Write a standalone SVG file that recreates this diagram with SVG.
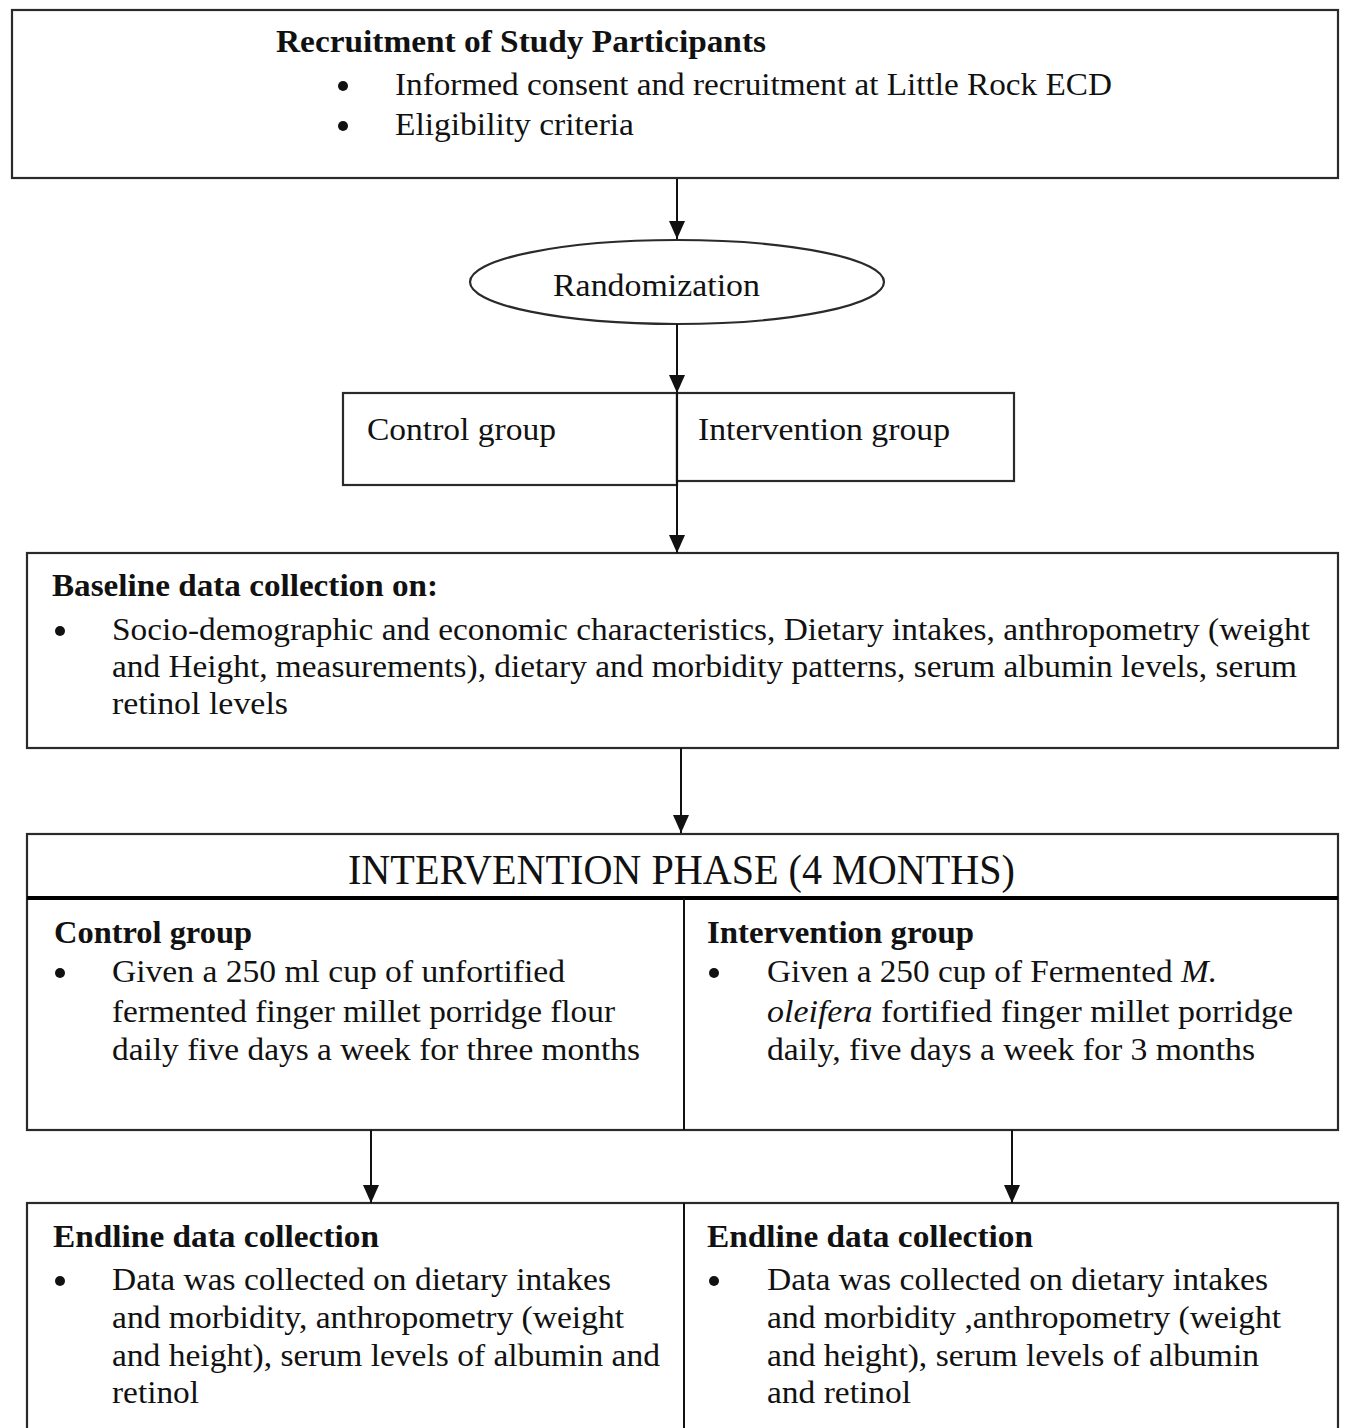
<svg xmlns="http://www.w3.org/2000/svg" width="1351" height="1428" viewBox="0 0 1351 1428">
<style>
.box{fill:#fff;stroke:#2a2a2a;stroke-width:2.2}
.ln{stroke:#111;stroke-width:2;fill:none}
.t{font-family:"Liberation Serif","Times New Roman",serif;font-size:31px;fill:#111}
.b{font-weight:bold}
.h{font-size:42px}
.dot{fill:#111}
</style>
<defs>
<marker id="ah" viewBox="0 0 18 16" refX="18" refY="8" markerWidth="18" markerHeight="16" markerUnits="userSpaceOnUse" orient="auto">
<path d="M0,0 L18,8 L0,16 z" fill="#111"/>
</marker>
</defs>
<rect width="1351" height="1428" fill="#fff"/>

<g id="recruitment">
<rect class="box" x="12" y="10" width="1326" height="168"/>
<text class="t b" x="276" y="52" textLength="490" lengthAdjust="spacingAndGlyphs">Recruitment of Study Participants</text>
<circle class="dot" cx="343" cy="86" r="5"/>
<text class="t" x="395" y="95" textLength="717" lengthAdjust="spacingAndGlyphs">Informed consent and recruitment at Little Rock ECD</text>
<circle class="dot" cx="343" cy="126" r="5"/>
<text class="t" x="395" y="135" textLength="239" lengthAdjust="spacingAndGlyphs">Eligibility criteria</text>
</g>

<g id="randomization">
<ellipse class="box" cx="677" cy="282" rx="207" ry="42"/>
<text class="t" x="553" y="296" textLength="207" lengthAdjust="spacingAndGlyphs">Randomization</text>
</g>

<g id="groups">
<rect class="box" x="343" y="393" width="334" height="92"/>
<rect class="box" x="677" y="393" width="337" height="88"/>
<text class="t" x="367" y="440" textLength="189" lengthAdjust="spacingAndGlyphs">Control group</text>
<text class="t" x="698" y="440" textLength="252" lengthAdjust="spacingAndGlyphs">Intervention group</text>
</g>

<g id="baseline">
<rect class="box" x="27" y="553" width="1311" height="195"/>
<text class="t b" x="52" y="596" textLength="386" lengthAdjust="spacingAndGlyphs">Baseline data collection on:</text>
<circle class="dot" cx="60" cy="631" r="5"/>
<text class="t" x="112" y="640" textLength="1198" lengthAdjust="spacingAndGlyphs">Socio-demographic and economic characteristics, Dietary intakes, anthropometry (weight</text>
<text class="t" x="112" y="677" textLength="1185" lengthAdjust="spacingAndGlyphs">and Height, measurements), dietary and morbidity patterns, serum albumin levels, serum</text>
<text class="t" x="112" y="714" textLength="176" lengthAdjust="spacingAndGlyphs">retinol levels</text>
</g>

<g id="intervention-phase">
<rect class="box" x="27" y="834" width="1311" height="296"/>
<line x1="27" y1="898" x2="1338" y2="898" stroke="#000" stroke-width="4"/>
<line class="ln" x1="684" y1="898" x2="684" y2="1130"/>
<text class="t h" x="348" y="884" textLength="667" lengthAdjust="spacingAndGlyphs">INTERVENTION PHASE (4 MONTHS)</text>
<text class="t b" x="54" y="943" textLength="198" lengthAdjust="spacingAndGlyphs">Control group</text>
<circle class="dot" cx="60" cy="973" r="5"/>
<text class="t" x="112" y="982" textLength="453" lengthAdjust="spacingAndGlyphs">Given a 250 ml cup of unfortified</text>
<text class="t" x="112" y="1022" textLength="503" lengthAdjust="spacingAndGlyphs">fermented finger millet porridge flour</text>
<text class="t" x="112" y="1060" textLength="528" lengthAdjust="spacingAndGlyphs">daily five days a week for three months</text>
<text class="t b" x="707" y="943" textLength="267" lengthAdjust="spacingAndGlyphs">Intervention group</text>
<circle class="dot" cx="714" cy="973" r="5"/>
<text class="t" x="767" y="982" textLength="450" lengthAdjust="spacingAndGlyphs">Given a 250 cup of Fermented <tspan font-style="italic">M.</tspan></text>
<text class="t" x="767" y="1022" textLength="526" lengthAdjust="spacingAndGlyphs"><tspan font-style="italic">oleifera</tspan>  fortified finger millet porridge</text>
<text class="t" x="767" y="1060" textLength="488" lengthAdjust="spacingAndGlyphs">daily, five days a week for 3 months</text>
</g>

<g id="endline">
<rect class="box" x="27" y="1203" width="1311" height="240"/>
<line class="ln" x1="684" y1="1203" x2="684" y2="1428"/>
<text class="t b" x="53" y="1247" textLength="326" lengthAdjust="spacingAndGlyphs">Endline data collection</text>
<circle class="dot" cx="60" cy="1281" r="5"/>
<text class="t" x="112" y="1290" textLength="499" lengthAdjust="spacingAndGlyphs">Data was collected on dietary intakes</text>
<text class="t" x="112" y="1328" textLength="512" lengthAdjust="spacingAndGlyphs">and morbidity, anthropometry (weight</text>
<text class="t" x="112" y="1366" textLength="548" lengthAdjust="spacingAndGlyphs">and height), serum levels of albumin and</text>
<text class="t" x="112" y="1403" textLength="87" lengthAdjust="spacingAndGlyphs">retinol</text>
<text class="t b" x="707" y="1247" textLength="326" lengthAdjust="spacingAndGlyphs">Endline data collection</text>
<circle class="dot" cx="714" cy="1281" r="5"/>
<text class="t" x="767" y="1290" textLength="501" lengthAdjust="spacingAndGlyphs">Data was collected on dietary intakes</text>
<text class="t" x="767" y="1328" textLength="514" lengthAdjust="spacingAndGlyphs">and morbidity ,anthropometry (weight</text>
<text class="t" x="767" y="1366" textLength="492" lengthAdjust="spacingAndGlyphs">and height), serum levels of albumin</text>
<text class="t" x="767" y="1403" textLength="144" lengthAdjust="spacingAndGlyphs">and retinol</text>
</g>

<g id="connectors">
<line class="ln" x1="677" y1="179" x2="677" y2="239" marker-end="url(#ah)"/>
<line class="ln" x1="677" y1="324" x2="677" y2="393" marker-end="url(#ah)"/>
<line class="ln" x1="677" y1="393" x2="677" y2="553" marker-end="url(#ah)"/>
<line class="ln" x1="681" y1="748" x2="681" y2="833" marker-end="url(#ah)"/>
<line class="ln" x1="371" y1="1130" x2="371" y2="1203" marker-end="url(#ah)"/>
<line class="ln" x1="1012" y1="1130" x2="1012" y2="1203" marker-end="url(#ah)"/>
</g>
</svg>
